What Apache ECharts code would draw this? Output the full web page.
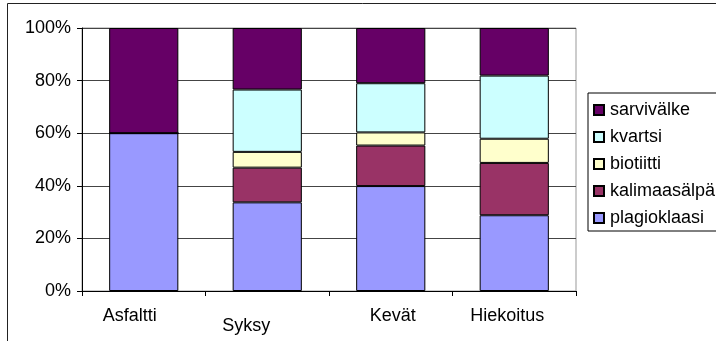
<!DOCTYPE html>
<html>
<head>
<meta charset="utf-8">
<script src="https://cdn.jsdelivr.net/npm/echarts@6/dist/echarts.min.js"></script>
<style>
  html, body { margin: 0; padding: 0; background: #fff; }
  #chart { width: 716px; height: 341px; }
</style>
</head>
<body>
<div id="chart"></div>
<script>
// Mineral composition (%) by sample
const categories = ['Asfaltti', 'Syksy', 'Kevät', 'Hiekoitus'];
const plagioklaasi = [60.0, 33.7, 39.9, 28.8];
const kalimaasalpa = [0, 13.2, 15.4, 19.9];
const biotiitti = [0, 6.0, 5.0, 9.2];
const kvartsi = [0, 23.7, 18.7, 24.0];
const sarvivalke = [40.0, 23.4, 21.0, 18.1];
const yTicks = [0, 20, 40, 60, 80, 100];

const FONT = "'Liberation Sans', Arial, sans-serif";

// Per-category label offsets (the second label sits a bit lower)
const labelStyles = {
  'Asfaltti': { padding: [0, 28, 0, 0] },
  'Syksy': { padding: [10, 42, 0, 0] },
  'Kevät': { padding: [0, 0, 0, 4] },
  'Hiekoitus': { padding: [0, 14, 0, 0] }
};

const seriesDefs = [
  { name: 'plagioklaasi', data: plagioklaasi, color: '#9999FF' },
  { name: 'kalimaasälpä', data: kalimaasalpa, color: '#993366' },
  { name: 'biotiitti', data: biotiitti, color: '#FFFFCC' },
  { name: 'kvartsi', data: kvartsi, color: '#CCFFFF' },
  { name: 'sarvivälke', data: sarvivalke, color: '#660066' }
];

const chart = echarts.init(document.getElementById('chart'), null, { renderer: 'canvas' });

chart.setOption({
  animation: false,
  textStyle: { fontFamily: FONT },
  graphic: [{
    type: 'rect',
    shape: { x: 7.5, y: 3.5, width: 800, height: 400 },
    style: { fill: 'none', stroke: '#222', lineWidth: 1 },
    z: 0
  }],
  grid: {
    left: 82, right: 140, top: 28, bottom: 50,
    show: true, borderColor: '#999', borderWidth: 1, backgroundColor: 'transparent'
  },
  legend: {
    orient: 'vertical',
    left: 588, top: 93,
    data: ['sarvivälke', 'kvartsi', 'biotiitti', 'kalimaasälpä', 'plagioklaasi'],
    itemWidth: 10, itemHeight: 10, itemGap: 9,
    padding: [8, 10, 4, 5],
    borderColor: '#000', borderWidth: 1,
    backgroundColor: '#fff',
    textStyle: { fontSize: 18, color: '#000', fontFamily: FONT, padding: [0, 0, 0, 1] },
    icon: 'rect'
  },
  xAxis: {
    type: 'category',
    data: categories.map(c => ({ value: c, textStyle: labelStyles[c] })),
    axisLine: { lineStyle: { color: '#000' } },
    axisTick: { show: true, length: 5, lineStyle: { color: '#000' } },
    axisLabel: { fontSize: 18, color: '#000', margin: 16, fontFamily: FONT, interval: 0 },
    splitLine: { show: false }
  },
  yAxis: {
    type: 'value',
    min: yTicks[0], max: yTicks[yTicks.length - 1], interval: yTicks[1] - yTicks[0],
    axisLine: { show: true, lineStyle: { color: '#000' } },
    axisTick: { show: true, length: 5, lineStyle: { color: '#000' } },
    axisLabel: { fontSize: 18, color: '#000', margin: 11, fontFamily: FONT, formatter: '{value}%' },
    splitLine: { show: true, lineStyle: { color: '#444', width: 1 } }
  },
  series: seriesDefs.map(s => ({
    name: s.name,
    type: 'bar',
    stack: 'total',
    barWidth: '56%',
    data: s.data,
    itemStyle: { color: s.color, borderColor: '#000', borderWidth: 1 },
    emphasis: { disabled: true }
  }))
});
</script>
</body>
</html>
